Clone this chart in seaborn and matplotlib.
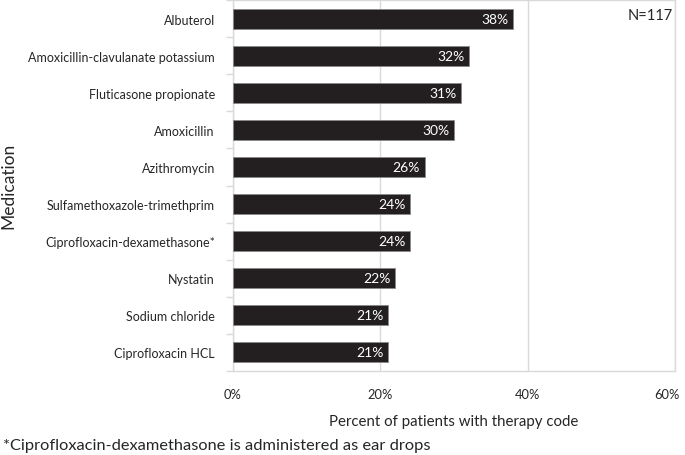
import matplotlib
matplotlib.use('Agg')
import matplotlib.pyplot as plt
import matplotlib.transforms as mtransforms
import seaborn as sns
import numpy as np
import pandas as pd

medications = ['Albuterol', 'Amoxicillin-clavulanate potassium', 'Fluticasone propionate',
               'Amoxicillin', 'Azithromycin', 'Sulfamethoxazole-trimethprim',
               'Ciprofloxacin-dexamethasone*', 'Nystatin', 'Sodium chloride', 'Ciprofloxacin HCL']
percents = [38, 32, 31, 30, 26, 24, 24, 22, 21, 21]
xticks = [0, 20, 40, 60]

df = pd.DataFrame({'Medication': medications, 'Percent': percents})

sns.set_theme(style='white')
plt.rcParams['font.family'] = ['Lato', 'DejaVu Sans']

fig = plt.figure(figsize=(6.85, 4.56), dpi=100)
ax = fig.add_axes([233 / 685, 1 - 372 / 456, 442 / 685, 371 / 456])

sns.barplot(data=df, x='Percent', y='Medication', color='#231f20', width=0.54,
            edgecolor='#8a8a8a', linewidth=0.6, saturation=1, ax=ax, zorder=3)

for i, v in enumerate(percents):
    ax.text(v - 0.6, i, f'{v}%', color='white', ha='right', va='center', fontsize=10, zorder=4)

ax.set_xlim(0, 60)
ax.set_ylim(len(medications) - 0.5, -0.5)
ax.set_xticks(xticks)
ax.set_xticklabels([f'{t}%' for t in xticks], fontsize=9.3)
ax.tick_params(axis='x', length=0, pad=12)
ax.xaxis.grid(True, color='#d9d9d9', linewidth=1)
ax.set_axisbelow(True)
# nudge the last tick label so it stays inside the figure
last = ax.get_xticklabels()[-1]
last.set_transform(last.get_transform() + mtransforms.ScaledTranslation(-6 / 72, 0, fig.dpi_scale_trans))

ax.set_yticks(range(len(medications)))
ax.set_yticklabels(medications, fontsize=9)
ax.tick_params(axis='y', which='major', length=0, pad=13)
ax.set_yticks(np.arange(-0.5, len(medications), 1), minor=True)
ax.tick_params(axis='y', which='minor', length=5, color='#d9d9d9', width=1, left=True)

for side in ['left', 'bottom', 'top', 'right']:
    ax.spines[side].set_color('#d9d9d9')
    ax.spines[side].set_linewidth(1)

ax.set_xlabel('Percent of patients with therapy code', fontsize=10.8, labelpad=10)
ax.set_ylabel('')
fig.text(8 / 685, 1 - 186 / 456, 'Medication', rotation=90, ha='center', va='center', fontsize=12.5)
ax.text(0.995, 0.96, 'N=117', transform=ax.transAxes, ha='right', va='center', fontsize=10.5)
fig.text(3 / 685, 1 - 446 / 456, '*Ciprofloxacin-dexamethasone is administered as ear drops',
         ha='left', va='center', fontsize=11.8)

fig.savefig('out.png', dpi=100)
